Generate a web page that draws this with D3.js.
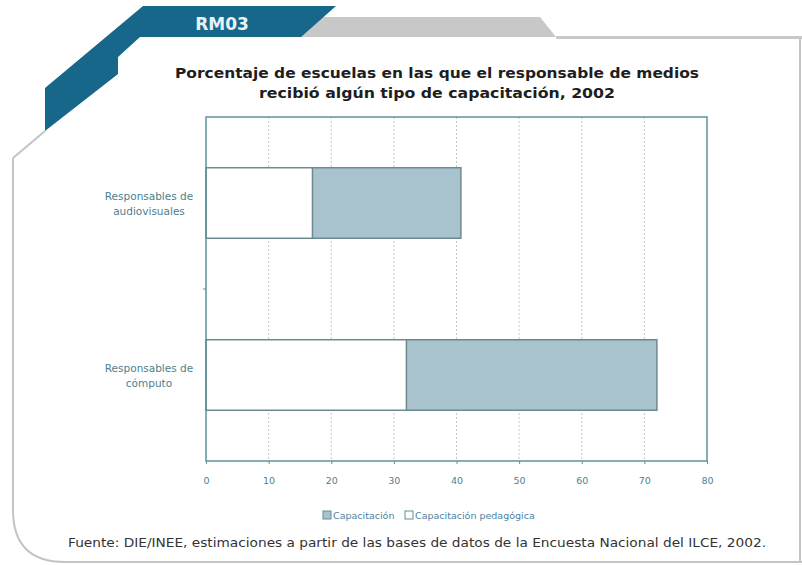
<!DOCTYPE html>
<html><head><meta charset="utf-8">
<script src="https://cdn.jsdelivr.net/npm/d3@7"></script>
<style>html,body{margin:0;padding:0;background:#fff;}svg{display:block;}</style>
</head><body><svg id="c" width="802" height="565"></svg>
<script>
const categories = [["Responsables de","audiovisuales"],["Responsables de","cómputo"]];
const capacitacion = [40.7, 72];          // any training (total bar)
const pedagogica = [17, 32];              // pedagogical training (overlay)
const xTicks = [0,10,20,30,40,50,60,70,80];
const titleLines = ["Porcentaje de escuelas en las que el responsable de medios","recibió algún tipo de capacitación, 2002"];
const legendLabels = ["Capacitación","Capacitación pedagógica"];
const sourceText = "Fuente: DIE/INEE, estimaciones a partir de las bases de datos de la Encuesta Nacional del ILCE, 2002.";

const svg = d3.select("#c");
// decorations
svg.append("path").attr("d","M13,158 L45,131 M13,158 L13,510 Q13,562 65,562 L802,562 M800,38 L800,562")
  .attr("fill","none").attr("stroke","#c4c4c4").attr("stroke-width",2);
svg.append("path").attr("d","M300,17 L540,17 L556,37 L300,37 Z").attr("fill","#c8c8c8");
svg.append("rect").attr("x",556).attr("y",36).attr("width",246).attr("height",3).attr("fill","#c8c8c8");
svg.append("path").attr("d","M143,6 L336,6 L301,37 L140,37 L118,57 L118,74 L45,131 L45,88 Z").attr("fill","#16678a");
svg.append("text").attr("x",222).attr("y",30).attr("text-anchor","middle")
  .attr("font-family","DejaVu Sans").attr("font-weight","bold").attr("font-size",17).attr("fill","#e8f2f6").text("RM03");

const titleLen = [524, 356];
svg.selectAll("text.title").data(titleLines).join("text").attr("class","title")
  .attr("x",437).attr("y",(d,i)=>78+i*20).attr("text-anchor","middle")
  .attr("font-family","DejaVu Sans").attr("font-weight","bold").attr("font-size",14.5).attr("fill","#1e1e1e")
  .attr("textLength",(d,i)=>titleLen[i]).attr("lengthAdjust","spacingAndGlyphs")
  .text(d=>d);

const x = d3.scaleLinear().domain([0,80]).range([206,707]);
const y = d3.scaleBand().domain(d3.range(categories.length)).range([117,461]).paddingInner(0.59).paddingOuter(0.295);
const band = d3.scaleBand().domain(d3.range(categories.length)).range([117,461]);

// gridlines
svg.append("g").selectAll("line").data(xTicks.slice(1,-1)).join("line")
  .attr("x1",d=>x(d)).attr("x2",d=>x(d)).attr("y1",117).attr("y2",461)
  .attr("stroke","#c4c8c8").attr("stroke-dasharray","2,2").attr("stroke-width",1);

// bars
svg.append("g").selectAll("rect").data(capacitacion).join("rect")
  .attr("x",x(0)).attr("y",(d,i)=>y(i)).attr("width",d=>x(d)-x(0)).attr("height",y.bandwidth())
  .attr("fill","#a8c3cd").attr("stroke","#6d8990").attr("stroke-width",1.5);
svg.append("g").selectAll("rect").data(pedagogica).join("rect")
  .attr("x",x(0)).attr("y",(d,i)=>y(i)).attr("width",d=>x(d)-x(0)).attr("height",y.bandwidth())
  .attr("fill","#ffffff").attr("stroke","#6d8990").attr("stroke-width",1.5);

// plot frame
svg.append("rect").attr("x",206).attr("y",117).attr("width",501).attr("height",344)
  .attr("fill","none").attr("stroke","#5e929c").attr("stroke-width",1.5);

// axes
const xa = svg.append("g").attr("transform","translate(0,461)")
  .call(d3.axisBottom(x).tickValues(xTicks).tickSize(3).tickPadding(13).tickFormat(d3.format("d")));
xa.select(".domain").remove();
xa.selectAll("line").attr("stroke","#5e929c");
xa.selectAll("text").attr("font-family","DejaVu Sans").attr("font-size",9.5).attr("fill","#4e8290");

svg.append("g").selectAll("line").data([1]).join("line")
  .attr("x1",203).attr("x2",206).attr("y1",d=>band(d)).attr("y2",d=>band(d)).attr("stroke","#5e929c");

const yl = svg.append("g").selectAll("text").data(categories).join("text")
  .attr("x",149).attr("y",(d,i)=>y(i)+y.bandwidth()/2-3).attr("text-anchor","middle")
  .attr("font-family","DejaVu Sans").attr("font-size",10.5).attr("fill","#4e7f8c");
yl.selectAll("tspan").data(d=>d).join("tspan").attr("x",149).attr("dy",(d,i)=>i?15:0).text(d=>d);

// legend
const lg = svg.append("g").attr("transform","translate(323,511)");
lg.append("rect").attr("x",0).attr("y",0).attr("width",8).attr("height",8).attr("fill","#a8c3cd").attr("stroke","#5e8c96");
lg.append("text").attr("x",10).attr("y",8).attr("font-family","DejaVu Sans").attr("font-size",9.5).attr("fill","#4e82a0").text(legendLabels[0]);
lg.append("rect").attr("x",82).attr("y",0).attr("width",8).attr("height",8).attr("fill","#fff").attr("stroke","#5e8c96");
lg.append("text").attr("x",92).attr("y",8).attr("font-family","DejaVu Sans").attr("font-size",9.5).attr("fill","#4e82a0").text(legendLabels[1]);

svg.append("text").attr("x",417).attr("y",547).attr("text-anchor","middle")
  .attr("font-family","DejaVu Sans").attr("font-size",12.5).attr("fill","#333")
  .attr("textLength",698).attr("lengthAdjust","spacingAndGlyphs").text(sourceText);
</script></body></html>
